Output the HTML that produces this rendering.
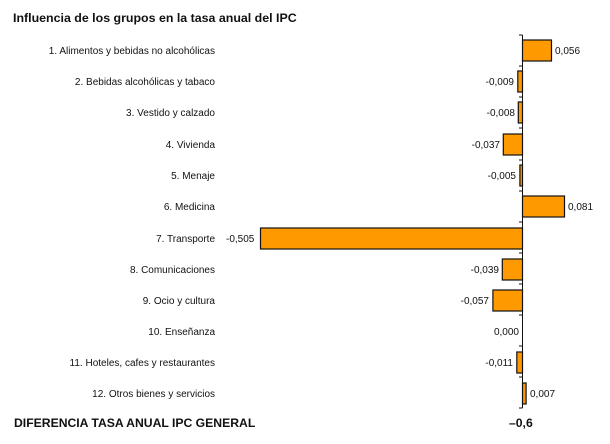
<!DOCTYPE html>
<html><head><meta charset="utf-8"><style>
body{margin:0;background:#fff;}
svg{display:block;font-family:"Liberation Sans",Arial,sans-serif;}
</style></head><body>
<svg width="610" height="444" viewBox="0 0 610 444" xmlns="http://www.w3.org/2000/svg">
<text x="13" y="22" font-size="12.4" font-weight="bold" fill="#111">Influencia de los grupos en la tasa anual del IPC</text>
<g font-size="10" fill="#111">
<text x="215" y="54" text-anchor="end">1. Alimentos y bebidas no alcohólicas</text>
<text x="215" y="85" text-anchor="end">2. Bebidas alcohólicas y tabaco</text>
<text x="215" y="116" text-anchor="end">3. Vestido y calzado</text>
<text x="215" y="148" text-anchor="end">4. Vivienda</text>
<text x="215" y="179" text-anchor="end">5. Menaje</text>
<text x="215" y="210" text-anchor="end">6. Medicina</text>
<text x="215" y="242" text-anchor="end">7. Transporte</text>
<text x="215" y="273" text-anchor="end">8. Comunicaciones</text>
<text x="215" y="304" text-anchor="end">9. Ocio y cultura</text>
<text x="215" y="335" text-anchor="end">10. Enseñanza</text>
<text x="215" y="366" text-anchor="end">11. Hoteles, cafes y restaurantes</text>
<text x="215" y="397" text-anchor="end">12. Otros bienes y servicios</text>
</g>
<g fill="#f90" stroke="#111" stroke-width="1.2">
<rect x="522.5" y="40" width="29" height="21"/>
<rect x="517.8" y="71" width="4.7" height="21"/>
<rect x="518.3" y="102" width="4.2" height="21"/>
<rect x="503.3" y="134" width="19.2" height="21"/>
<rect x="519.9" y="165" width="2.6" height="21"/>
<rect x="522.5" y="196" width="42" height="21"/>
<rect x="260.5" y="228" width="262" height="21"/>
<rect x="502.3" y="259" width="20.2" height="21"/>
<rect x="492.9" y="290" width="29.6" height="21"/>
<rect x="516.8" y="352" width="5.7" height="21"/>
<rect x="522.5" y="383" width="3.6" height="21"/>
</g>
<g stroke="#111" stroke-width="1">
<line x1="522.5" y1="35" x2="522.5" y2="408"/>
<line x1="519" y1="35" x2="522.5" y2="35"/><line x1="519" y1="66" x2="522.5" y2="66"/>
<line x1="519" y1="97" x2="522.5" y2="97"/><line x1="519" y1="128" x2="522.5" y2="128"/>
<line x1="519" y1="160" x2="522.5" y2="160"/><line x1="519" y1="191" x2="522.5" y2="191"/>
<line x1="519" y1="222" x2="522.5" y2="222"/><line x1="519" y1="253" x2="522.5" y2="253"/>
<line x1="519" y1="284" x2="522.5" y2="284"/><line x1="519" y1="315" x2="522.5" y2="315"/>
<line x1="519" y1="346" x2="522.5" y2="346"/><line x1="519" y1="377" x2="522.5" y2="377"/>
<line x1="519" y1="408" x2="522.5" y2="408"/>
</g>
<g font-size="10" fill="#111">
<text x="555" y="54">0,056</text>
<text x="514" y="85" text-anchor="end">-0,009</text>
<text x="515" y="116" text-anchor="end">-0,008</text>
<text x="500" y="148" text-anchor="end">-0,037</text>
<text x="516" y="179" text-anchor="end">-0,005</text>
<text x="568" y="210">0,081</text>
<text x="226" y="242">-0,505</text>
<text x="499" y="273" text-anchor="end">-0,039</text>
<text x="489" y="304" text-anchor="end">-0,057</text>
<text x="519" y="335" text-anchor="end">0,000</text>
<text x="513" y="366" text-anchor="end">-0,011</text>
<text x="530" y="397">0,007</text>
</g>
<text x="14" y="427" font-size="12.2" font-weight="bold" fill="#111">DIFERENCIA TASA ANUAL IPC GENERAL</text>
<text x="509" y="427" font-size="12.2" font-weight="bold" fill="#111">–0,6</text>
</svg>
</body></html>
